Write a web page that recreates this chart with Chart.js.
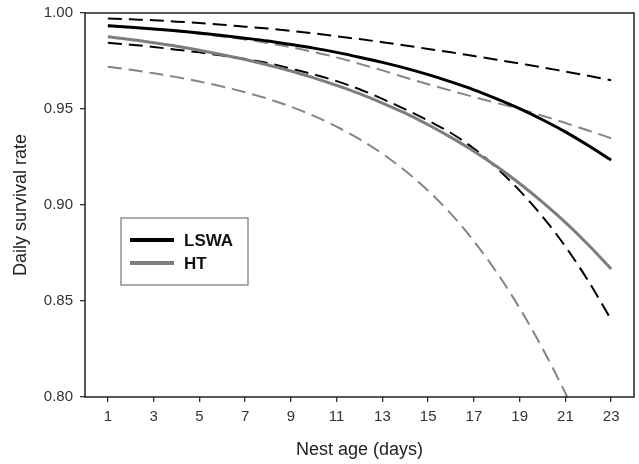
<!DOCTYPE html>
<html>
<head>
<meta charset="utf-8">
<script src="https://cdn.jsdelivr.net/npm/chart.js@4.4.1/dist/chart.umd.min.js"></script>
<style>
  html, body { margin: 0; padding: 0; background: #ffffff; }
  #wrap { width: 639px; height: 464px; }
</style>
</head>
<body>
<div id="wrap"><canvas id="c" width="639" height="464"></canvas></div>
<script>
// ---- data ----
const ages = [1,2,3,4,5,6,7,8,9,10,11,12,13,14,15,16,17,18,19,20,21,22,23];

const lswaMean  = [0.9934,0.9926,0.9917,0.9907,0.9896,0.9883,0.9869,0.9854,0.9836,0.9817,0.9795,0.9770,0.9743,0.9713,0.9679,0.9641,0.9600,0.9553,0.9502,0.9444,0.9381,0.9310,0.9234];
const lswaUpper = [0.9972,0.9967,0.9962,0.9955,0.9948,0.9939,0.9929,0.9919,0.9907,0.9894,0.9879,0.9864,0.9848,0.9831,0.9813,0.9795,0.9776,0.9757,0.9737,0.9717,0.9695,0.9673,0.9650];
const lswaLower = [0.9845,0.9835,0.9823,0.9809,0.9795,0.9778,0.9760,0.9739,0.9710,0.9680,0.9645,0.9603,0.9553,0.9498,0.9440,0.9375,0.9294,0.9193,0.9075,0.8940,0.8784,0.8605,0.8403];

const htMean  = [0.9876,0.9862,0.9845,0.9827,0.9806,0.9783,0.9758,0.9729,0.9698,0.9662,0.9623,0.9580,0.9531,0.9478,0.9418,0.9352,0.9280,0.9200,0.9112,0.9015,0.8909,0.8793,0.8667];
const htUpper = [0.9935,0.9926,0.9916,0.9905,0.9892,0.9878,0.9862,0.9843,0.9822,0.9797,0.9769,0.9735,0.9701,0.9664,0.9629,0.9595,0.9563,0.9531,0.9500,0.9465,0.9427,0.9388,0.9348];
const htLower = [0.9720,0.9704,0.9686,0.9666,0.9643,0.9617,0.9587,0.9553,0.9512,0.9464,0.9408,0.9343,0.9267,0.9178,0.9074,0.8954,0.8812,0.8649,0.8463,0.8253,0.8020,0.7764,0.7485];

const xTicks = [1,3,5,7,9,11,13,15,17,19,21,23];
const yTicks = [0.80,0.85,0.90,0.95,1.00];

const seriesNames = ['LSWA','HT'];
const xTitle = 'Nest age (days)';
const yTitle = 'Daily survival rate';

// ---- styles ----
const BLACK = '#000000';
const GREY = '#7d7d7d';
const GREY_D = '#858585';
const DASH = [14, 7];

function pts(vals) { return ages.map((a, i) => ({x: a, y: vals[i]})); }

function solid(label, vals, color) {
  return { label, data: pts(vals), borderColor: color, borderWidth: 3, pointRadius: 0,
           cubicInterpolationMode: 'monotone', fill: false };
}
function dashed(label, vals, color) {
  return { label, data: pts(vals), borderColor: color, borderWidth: 2, borderDash: DASH,
           pointRadius: 0, cubicInterpolationMode: 'monotone', fill: false };
}

const framePlugin = {
  id: 'frame',
  afterDraw(chart) {
    const {ctx, chartArea: a} = chart;
    ctx.save();
    ctx.strokeStyle = '#222';
    ctx.lineWidth = 1.5;
    ctx.strokeRect(a.left, a.top, a.right - a.left, a.bottom - a.top);
    ctx.restore();
  }
};

const legendPlugin = {
  id: 'boxLegend',
  afterDraw(chart) {
    const {ctx} = chart;
    const bx = 121, by = 218, bw = 127, bh = 67;
    ctx.save();
    ctx.fillStyle = '#fff';
    ctx.fillRect(bx, by, bw, bh);
    ctx.strokeStyle = '#808080';
    ctx.lineWidth = 1.3;
    ctx.strokeRect(bx, by, bw, bh);
    const entries = [
      {name: seriesNames[0], color: BLACK, y: 240},
      {name: seriesNames[1], color: GREY, y: 263}
    ];
    ctx.font = 'bold 17px "Liberation Sans", Arial, sans-serif';
    ctx.textBaseline = 'middle';
    ctx.textAlign = 'left';
    for (const e of entries) {
      ctx.strokeStyle = e.color;
      ctx.lineWidth = 4;
      ctx.beginPath();
      ctx.moveTo(130, e.y);
      ctx.lineTo(174, e.y);
      ctx.stroke();
      ctx.fillStyle = '#111';
      ctx.fillText(e.name, 184, e.y + 1);
    }
    ctx.restore();
  }
};

const tickFont = { family: '"Liberation Sans", Arial, sans-serif', size: 15 };
const titleFont = { family: '"Liberation Sans", Arial, sans-serif', size: 18, lineHeight: 1.2 };

new Chart(document.getElementById('c'), {
  type: 'line',
  data: {
    datasets: [
      solid(seriesNames[0], lswaMean, BLACK),
      solid(seriesNames[1], htMean, GREY),
      dashed(seriesNames[0] + ' upper', lswaUpper, BLACK),
      dashed(seriesNames[0] + ' lower', lswaLower, BLACK),
      dashed(seriesNames[1] + ' upper', htUpper, GREY_D),
      dashed(seriesNames[1] + ' lower', htLower, GREY_D)
    ]
  },
  options: {
    responsive: false,
    animation: false,
    layout: { padding: { top: 13, right: 5, left: 0, bottom: 0 } },
    plugins: { legend: { display: false }, tooltip: { enabled: false } },
    scales: {
      x: {
        type: 'linear', min: 0, max: 24,
        afterBuildTicks(scale) { scale.ticks = xTicks.map(v => ({value: v})); },
        afterFit(scale) { scale.height = 67; scale.paddingLeft = 0; scale.paddingRight = 0; },
        ticks: { font: tickFont, color: '#333', padding: 6, maxRotation: 0, autoSkip: false,
                 callback: v => String(v) },
        grid: { drawOnChartArea: false, drawTicks: true, tickLength: 5, color: '#333', lineWidth: 1.3 },
        border: { display: false },
        title: { display: true, text: xTitle, font: titleFont, color: '#222', padding: { top: 0, bottom: 3 } }
      },
      y: {
        type: 'linear', min: 0.80, max: 1.00,
        afterBuildTicks(scale) { scale.ticks = yTicks.map(v => ({value: v})); },
        afterFit(scale) { scale.width = 85; scale.paddingTop = 0; scale.paddingBottom = 0; },
        ticks: { font: tickFont, color: '#333', padding: 7, callback: v => Number(v).toFixed(2) },
        grid: { drawOnChartArea: false, drawTicks: true, tickLength: 5, color: '#333', lineWidth: 1.3 },
        border: { display: false },
        title: { display: true, text: yTitle, font: titleFont, color: '#222', padding: { top: 10, bottom: 0 } }
      }
    }
  },
  plugins: [framePlugin, legendPlugin]
});
</script>
</body>
</html>
